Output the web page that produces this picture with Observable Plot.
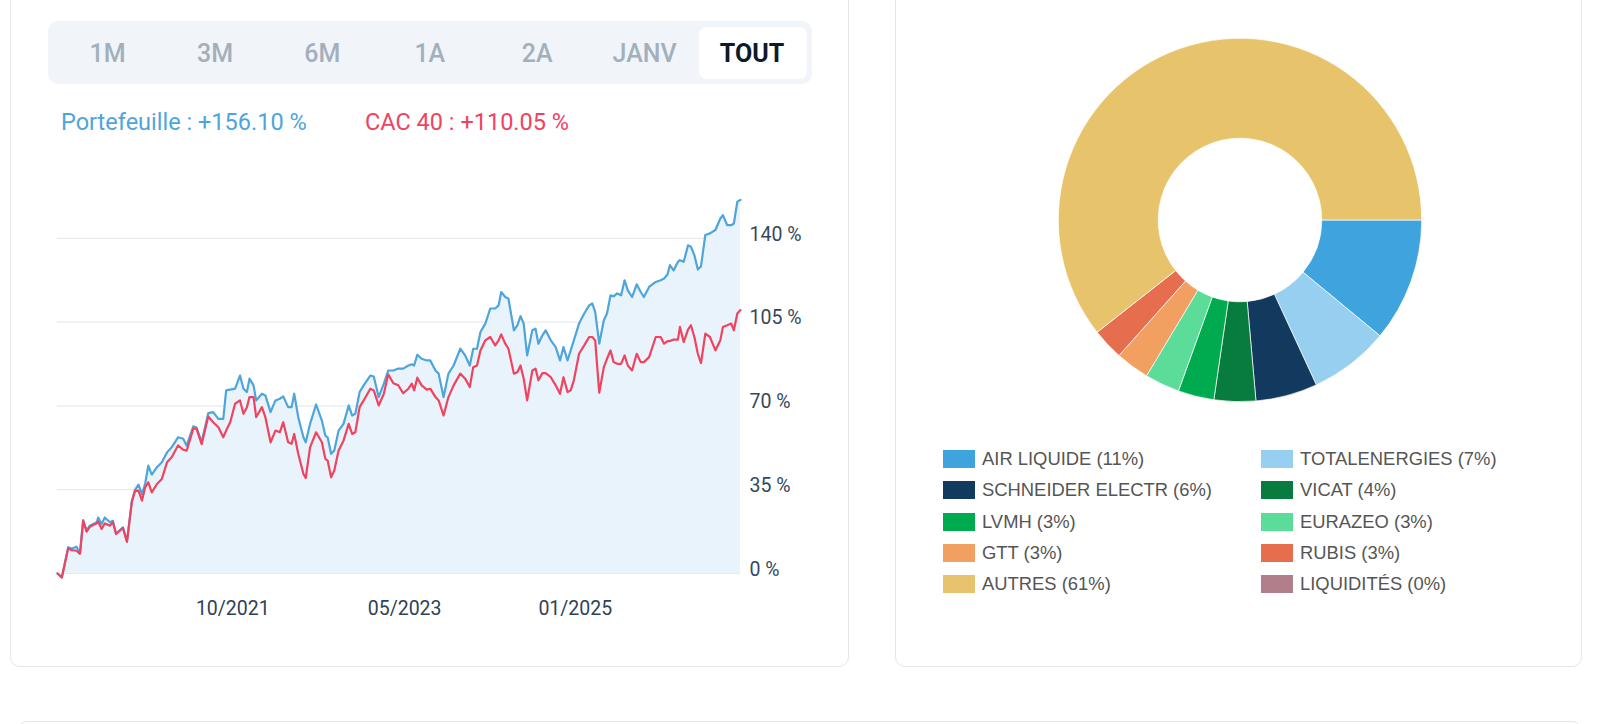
<!DOCTYPE html>
<html><head><meta charset="utf-8">
<script src="https://cdn.jsdelivr.net/npm/d3@7"></script>
<script src="https://cdn.jsdelivr.net/npm/@observablehq/plot@0.6"></script>
<style>
*{box-sizing:border-box}
body{margin:0;background:#fff;width:1598px;height:724px;overflow:hidden;position:relative;font-family:Roboto,"Noto Sans",sans-serif}
.card{position:absolute;border:1px solid #e3e6ea;border-radius:10px;background:#fff}
.tabs{position:absolute;left:48px;top:21px;width:764px;height:63px;background:#f1f4f8;border-radius:10px}
.active{position:absolute;left:699px;top:27px;width:108px;height:52px;background:#fff;border-radius:8px}
.tab{position:absolute;top:53px;transform:translate(-50%,-50%);font-size:25px;font-weight:500;color:#a2b0bd;white-space:nowrap}
.tab.on{color:#0d1a2b;font-weight:700}
.leg{position:absolute;top:122px;transform:translateY(-50%);font-size:23.5px;letter-spacing:0;white-space:nowrap}
#line{position:absolute;left:0;top:180px}
#donut{position:absolute;left:1040px;top:20px}
.pl{position:absolute;height:18px;display:flex;align-items:center;font-family:"Liberation Sans",Arial,sans-serif;font-size:18.4px;color:#555;white-space:nowrap}
.sw{width:32px;height:18px;margin-right:7px;flex:none}
</style>
</head><body>
<div class="card" style="left:10px;top:-20px;width:839px;height:687px"></div>
<div class="card" style="left:895px;top:-20px;width:687px;height:687px"></div>
<div class="card" style="left:17px;top:721px;width:1565px;height:100px"></div>
<div class="tabs"></div>
<div class="active"></div>
<div id="tabs"></div>
<div id="legend"></div>
<div id="line"></div>
<div id="donut"></div>
<div id="pieLegend"></div>
<script>
// ---- data ----
const periods = ["1M","3M","6M","1A","2A","JANV","TOUT"];
const activePeriod = "TOUT";
const seriesNames = ["Portefeuille","CAC 40"];
const seriesTotals = [156.10, 110.05];
const seriesColors = ["#4ea5dc","#f0435f"];

const dates = [
"2020-02-01","2020-02-16","2020-03-09","2020-03-20","2020-04-07","2020-04-19","2020-04-30","2020-05-12","2020-05-23","2020-06-16",
"2020-06-21","2020-07-03","2020-07-14","2020-08-01","2020-08-11","2020-08-22","2020-09-15","2020-09-29","2020-10-16","2020-10-27",
"2020-11-08","2020-11-20","2020-12-01","2020-12-12","2020-12-24","2021-01-11","2021-01-28","2021-02-15","2021-03-03","2021-03-25",
"2021-04-12","2021-04-24","2021-05-17","2021-05-28","2021-06-15","2021-07-08","2021-07-25","2021-08-12","2021-08-29","2021-09-08",
"2021-09-22","2021-10-09","2021-10-26","2021-11-07","2021-11-19","2021-11-28","2021-12-12","2021-12-21","2022-01-10","2022-01-22",
"2022-02-09","2022-02-26","2022-03-13","2022-03-25","2022-04-11","2022-04-23","2022-05-02","2022-05-16","2022-06-03","2022-06-11",
"2022-06-26","2022-07-17","2022-08-06","2022-08-18","2022-08-26","2022-09-07","2022-09-18","2022-10-03","2022-10-20","2022-11-07",
"2022-11-19","2022-11-30","2022-12-15","2022-12-29","2023-01-21","2023-02-02","2023-02-19","2023-03-09","2023-03-24","2023-04-11",
"2023-04-28","2023-05-15","2023-06-02","2023-06-14","2023-06-22","2023-07-03","2023-07-18","2023-08-05","2023-08-17","2023-09-04",
"2023-09-15","2023-10-02","2023-10-19","2023-11-06","2023-11-29","2023-12-16","2024-01-01","2024-01-13","2024-01-26","2024-02-07",
"2024-02-24","2024-03-12","2024-03-29","2024-04-10","2024-04-19","2024-05-03","2024-05-14","2024-06-02","2024-06-14","2024-06-25",
"2024-07-06","2024-07-18","2024-08-05","2024-08-16","2024-08-26","2024-09-09","2024-09-20","2024-10-08","2024-10-25","2024-11-09",
"2024-11-21","2024-12-05","2024-12-16","2024-12-27","2025-01-14","2025-02-01","2025-02-18","2025-03-01","2025-03-11","2025-03-25",
"2025-04-10","2025-04-21","2025-05-03","2025-05-14","2025-05-26","2025-06-09","2025-06-21","2025-07-02","2025-07-17","2025-08-02",
"2025-08-16","2025-08-27","2025-09-14","2025-10-07","2025-10-24","2025-11-05","2025-11-17","2025-11-25","2025-12-08","2025-12-23",
"2025-12-30","2026-01-12","2026-01-27","2026-02-06","2026-02-18","2026-03-02","2026-03-13","2026-03-28","2026-04-13","2026-05-02",
"2026-05-19","2026-05-28","2026-06-12","2026-06-26","2026-07-05","2026-07-17","2026-07-28"];

const portfolio = [
0,-1.7,11,10.3,11.2,8.5,22.3,17.9,20,21.4,
23.4,20.7,23.4,21.4,22,16.7,19.3,13.4,30.4,34.9,
37.1,33.2,37.5,45.1,41.3,44.4,46.5,50.6,52.7,56.9,
56.3,53.4,61.5,61,55,67,67.4,64.6,64.6,76.5,
76.8,77.2,82.7,77.2,75.8,81.4,78.6,72.3,75.1,74.4,
67.4,72.3,73,74,69.5,69.5,75.1,65.3,56.9,54.8,
62.5,70.6,63.9,57.6,56.9,50,51.4,59.7,62.5,70.2,
66,66.7,75.8,78.6,82.7,82.3,73.7,79.3,84.8,84.8,
85.6,85.6,86.9,87.4,86.9,91.4,89.7,89,89,84.8,
83.5,73.7,83.5,86.9,93.9,91.1,86.9,93.9,93.9,100.9,
104.4,110.7,110.7,112,117.6,115.5,114.9,101.6,103.7,107.5,
104.4,91.1,101.6,102.3,96,99.5,101.6,97.4,94.6,89,
94.6,89,93.2,97.4,104.4,108.6,112,112.8,109.3,96,
105.8,108.6,116.2,115.8,117,116.2,122.5,118.3,115.5,120.8,
117.6,115.5,119.7,121.8,122.5,123.2,125,128.8,126.6,130.2,
130.9,130.2,137.1,136.5,133,127,128.4,141.4,142.1,143.5,
148.3,149.7,145.5,145.5,146.2,155.3,156.1];

const cac40 = [
0,-1.7,10.5,9.8,9.5,8.2,22,17.5,19.5,21,
21.8,18.6,20.9,20,21.5,16.5,19,13.2,30,34.5,
34.6,30.4,36,38.1,33.9,37.4,39.5,46.5,48.6,53.5,
51.7,51.3,60.5,60.5,54,65.6,63.2,61.1,56.9,59.7,
63.2,70.9,72.3,66.7,69.5,73.7,73.7,65.3,69.5,65.3,
54.8,59.7,59,63.2,54.8,54.2,58.3,50,41.6,39.9,
52.7,59,54.8,47.9,47.2,40.2,43,51.4,55.5,62.5,
58.3,59,69.5,72.3,77.2,76.5,70.2,75.1,83.2,79.5,
78.6,75.3,77.2,79.3,76.5,81.8,78.6,76.8,77.2,73.7,
72.3,66,73.7,78.6,83.5,81.4,77.9,86.2,86.9,93.2,
97.4,98.8,95.3,97.4,99.9,96,93.9,83.5,84.1,86.9,
81.4,72.3,84.8,85.6,80.7,83.7,83.7,82,78.6,75.1,
82,75.8,76.5,80.7,91.8,95.3,98.8,98.8,97.4,75.5,
86.2,89.7,93.2,88.3,87.6,87.6,91.1,86.9,84.8,91.8,
88.3,88.3,90.4,98.8,98.8,96,97.1,97.1,97.7,97.7,
103,96.7,101.9,103.7,98.8,91.8,87.9,100.2,98.8,93.2,
97.4,103,103.7,104.4,101.6,108.6,110.05];

const yTicks = [0, 35, 70, 105, 140];
const xTicks = ["2021-10-01", "2023-05-20", "2025-01-01"];

const holdings = ["AIR LIQUIDE","TOTALENERGIES","SCHNEIDER ELECTR","VICAT","LVMH","EURAZEO","GTT","RUBIS","AUTRES","LIQUIDITÉS"];
const weights  = [11.0, 7.1, 5.5, 3.7, 3.2, 3.1, 3.0, 2.8, 60.6, 0];
const holdingColors = ["#3fa3dd","#97cff1","#123a5f","#087c3e","#00ab4f","#5cdc99","#f1a061","#e66e4f","#e7c46b","#b07f8a"];

// ---- tabs & legend ----
const tabsEl = document.getElementById("tabs");
periods.forEach((p, i) => {
  const s = document.createElement("span");
  s.className = "tab" + (p === activePeriod ? " on" : "");
  s.style.left = (107.6 + i * 107.4) + "px";
  s.textContent = p;
  tabsEl.appendChild(s);
});
const legEl = document.getElementById("legend");
const legLeft = [61, 365];
seriesNames.forEach((n, i) => {
  const s = document.createElement("span");
  s.className = "leg";
  s.style.left = legLeft[i] + "px";
  s.style.color = seriesColors[i];
  s.textContent = `${n} : +${seriesTotals[i].toFixed(2)} %`;
  legEl.appendChild(s);
});

// ---- line chart ----
const rows = dates.map((d, i) => ({date: new Date(d), p: portfolio[i], c: cac40[i]}));
const line = Plot.plot({
  width: 800, height: 443,
  marginLeft: 57, marginRight: 60, marginTop: 10, marginBottom: 50,
  style: {fontFamily: "Roboto, sans-serif", fontSize: "19.5px", background: "transparent", overflow: "visible"},
  x: {type: "utc", domain: [new Date(dates[0]), new Date(dates[dates.length - 1])]},
  y: {domain: [0, 160]},
  marks: [
    Plot.gridY(yTicks, {stroke: "#e6eaef", strokeOpacity: 1, strokeWidth: 1.2}),
    Plot.areaY(rows, {x: "date", y: "p", fill: "#e9f3fb"}),
    Plot.lineY(rows, {x: "date", y: "p", stroke: seriesColors[0], strokeWidth: 2.2}),
    Plot.lineY(rows, {x: "date", y: "c", stroke: seriesColors[1], strokeWidth: 2.2}),
    Plot.axisY(yTicks, {anchor: "right", tickSize: 0, tickPadding: 9, textAnchor: "start", dy: -4,
      tickFormat: d => `${d} %`, fill: "#34485c", label: null}),
    Plot.axisX(xTicks.map(d => new Date(d)), {anchor: "bottom", tickSize: 0, tickPadding: 28,
      tickFormat: d3.utcFormat("%m/%Y"), fill: "#2f4257", label: null})
  ]
});
document.getElementById("line").appendChild(line);

// ---- donut ----
const colorScale = Plot.scale({color: {type: "ordinal", domain: holdings, range: holdingColors}});
const slices = holdings.map((name, i) => ({name, w: weights[i]}));
const donut = Plot.plot({
  width: 400, height: 400, margin: 0,
  style: {background: "transparent", overflow: "visible"},
  marks: [
    (index, scales, values, dims) => {
      const g = d3.create("svg:g").attr("transform", `translate(${dims.width / 2},${dims.height / 2})`);
      const arcs = d3.pie().sort(null).value(d => d.w).startAngle(Math.PI / 2).endAngle(Math.PI * 2.5)(slices);
      const arc = d3.arc().innerRadius(81.8).outerRadius(181.7);
      g.selectAll("path").data(arcs.filter(a => a.data.w > 0)).join("path")
        .attr("d", arc).attr("fill", d => colorScale.apply(d.data.name))
        .attr("stroke", "#fff").attr("stroke-width", 0.7);
      return g.node();
    }
  ]
});
document.getElementById("donut").appendChild(donut);

// ---- donut legend ----
const pl = document.getElementById("pieLegend");
holdings.forEach((name, i) => {
  const col = i % 2, row = Math.floor(i / 2);
  const d = document.createElement("div");
  d.className = "pl";
  d.style.left = (col ? 1261 : 943) + "px";
  d.style.top = (450 + row * 31.3) + "px";
  d.innerHTML = `<span class="sw" style="background:${colorScale.apply(name)}"></span><span>${name} (${Math.round(weights[i])}%)</span>`;
  pl.appendChild(d);
});
</script>
</body></html>
